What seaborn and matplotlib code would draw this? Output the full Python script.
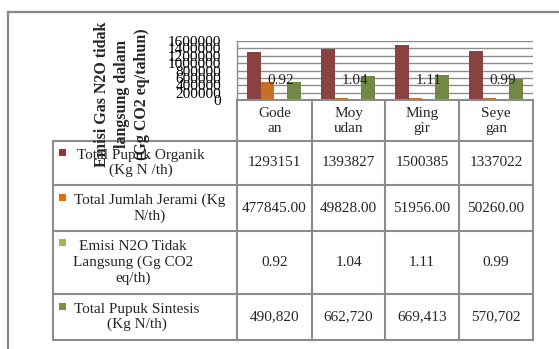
import matplotlib
matplotlib.use("Agg")
import matplotlib.pyplot as plt
from matplotlib.lines import Line2D
from matplotlib.patches import Rectangle
import pandas as pd
import seaborn as sns

# ---- data -------------------------------------------------------------
lokasi = ["Godean", "Moyudan", "Minggir", "Seyegan"]
lokasi_label = ["Gode\nan", "Moy\nudan", "Ming\ngir", "Seye\ngan"]

seri = [
    "Total Pupuk Organik (Kg N /th)",
    "Total Jumlah Jerami (Kg N/th)",
    "Emisi N2O Tidak Langsung (Gg CO2 eq/th)",
    "Total Pupuk Sintesis (Kg N/th)",
]
seri_label = [
    "Total Pupuk Organik\n(Kg N /th)",
    "Total Jumlah Jerami (Kg\nN/th)",
    "Emisi N2O Tidak\nLangsung (Gg CO2\neq/th)",
    "Total Pupuk Sintesis\n(Kg N/th)",
]

pupuk_organik = [1293151, 1393827, 1500385, 1337022]
jumlah_jerami = [477845.00, 49828.00, 51956.00, 50260.00]
emisi_n2o = [0.92, 1.04, 1.11, 0.99]
pupuk_sintesis = [490820, 662720, 669413, 570702]

warna = ["#963634", "#E46C0A", "#9BBB59", "#77933C"]
y_ticks = [0, 200000, 400000, 600000, 800000, 1000000, 1200000, 1400000, 1600000]

nilai = [pupuk_organik, jumlah_jerami, emisi_n2o, pupuk_sintesis]
teks_tabel = [
    [f"{v:d}" for v in pupuk_organik],
    [f"{v:.2f}" for v in jumlah_jerami],
    [f"{v:.2f}" for v in emisi_n2o],
    [f"{v:,}" for v in pupuk_sintesis],
]

df = pd.DataFrame(
    [(lok, s, v[i]) for s, v in zip(seri, nilai) for i, lok in enumerate(lokasi)],
    columns=["Lokasi", "Seri", "Nilai"],
)

# ---- style --------------------------------------------------------------
sns.set_style("white")
plt.rcParams["font.family"] = ["Liberation Serif", "DejaVu Serif"]
FS = 11
GRIS = "#8c8c8c"

W, H = 559, 349
fig = plt.figure(figsize=(W / 100, H / 100), dpi=100)


def fx(x):
    return x / W


def fy(y):
    return 1 - y / H


def garis(x0, y0, x1, y1, lw=1.5, color=GRIS):
    fig.add_artist(Line2D([fx(x0), fx(x1)], [fy(y0), fy(y1)],
                          transform=fig.transFigure, color=color, lw=lw,
                          solid_capstyle="projecting"))


# outer chart frame
garis(8, 11.5, 559, 11.5, lw=1.6, color="#888888")
garis(8, 11.5, 8, 349, lw=1.6, color="#888888")

# ---- plot area ----------------------------------------------------------
X0, X1, YT, YB = 237, 533, 41, 100
ax = fig.add_axes([fx(X0), fy(YB), (X1 - X0) / W, (YB - YT) / H])
sns.barplot(data=df, x="Lokasi", y="Nilai", hue="Seri", order=lokasi,
            hue_order=seri, palette=warna, width=0.72, linewidth=0,
            errorbar=None, legend=False, ax=ax)
ax.set_xlim(-0.5, len(lokasi) - 0.5)
ax.set_ylim(0, 1600000)
ax.set_yticks(y_ticks)
ax.set_yticklabels([str(t) for t in y_ticks], fontsize=FS)
ax.set_xticks([])
ax.set_xlabel("")
ax.set_ylabel("")
ax.yaxis.grid(True, color=GRIS, lw=1.0)
ax.set_axisbelow(True)
for s in ["top", "right", "bottom"]:
    ax.spines[s].set_visible(False)
ax.spines["left"].set_color(GRIS)
ax.spines["left"].set_linewidth(1.0)
ax.tick_params(axis="y", length=3, width=1.0, color=GRIS, pad=8.5,
               labelcolor="black")

# value labels of the N2O emission series
for bar, v in zip(ax.containers[2], emisi_n2o):
    ax.annotate(f"{v:.2f}", xy=(bar.get_x() + bar.get_width() / 2, bar.get_height()),
                xytext=(0, 14), textcoords="offset points",
                ha="center", va="center", fontsize=FS)

# axis title
fig.text(fx(122), fy(94), "Emisi Gas N2O tidak\nlangsung dalam\n(Gg CO2 eq/tahun)",
         rotation=90, ha="center", va="center", multialignment="center",
         fontsize=11.5, fontweight="bold", linespacing=1.3, zorder=5)

# ---- data table ---------------------------------------------------------
kolom = [53, 237, 312, 385, 459, 533]
baris = [141, 185, 231, 294, 340]
HDR_T = 100

# header row
garis(kolom[1], HDR_T, kolom[-1], HDR_T)
for x in kolom[1:]:
    garis(x, HDR_T, x, baris[0])
for i, lab in enumerate(lokasi_label):
    fig.text(fx((kolom[i + 1] + kolom[i + 2]) / 2), fy((HDR_T + baris[0]) / 2 + 0.5), lab,
             ha="center", va="center", multialignment="center", fontsize=FS)

# body grid
for y in baris:
    garis(kolom[0], y, kolom[-1], y)
for x in kolom:
    garis(x, baris[0], x, baris[-1])

# row headers with legend keys
pusat_label = [141, 150, 133, 137]
LSP = 18.6
for r in range(4):
    yc = (baris[r] + baris[r + 1]) / 2
    n = seri_label[r].count("\n") + 1
    fig.text(fx(pusat_label[r]), fy(yc), seri_label[r], ha="center", va="center",
             multialignment="center", fontsize=FS, linespacing=1.2)
    y_first = yc - (n - 1) * LSP / 2 - 1.5
    fig.add_artist(Rectangle((fx(59), fy(y_first + 3.5)), 7 / W, 7 / H,
                             transform=fig.transFigure, facecolor=warna[r],
                             edgecolor="none"))
    for c in range(4):
        fig.text(fx((kolom[c + 1] + kolom[c + 2]) / 2), fy(yc), teks_tabel[r][c],
                 ha="center", va="center", fontsize=FS)

fig.savefig("out.png", dpi=100, facecolor="white")
